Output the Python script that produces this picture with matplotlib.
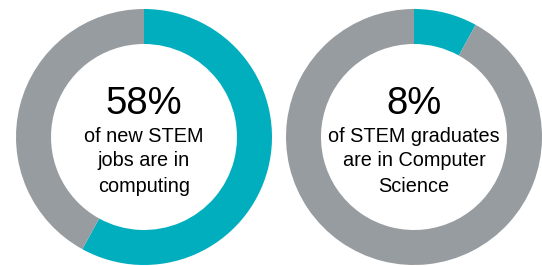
import matplotlib
matplotlib.use("Agg")
import matplotlib.pyplot as plt

plt.rcParams['font.family'] = ['Liberation Sans', 'DejaVu Sans']

# Data
shares = [58, 8]
big_labels = ["58%", "8%"]
sub_labels = [
    ["of new STEM", "jobs are in", "computing"],
    ["of STEM graduates", "are in Computer", "Science"],
]

teal = "#00AEBE"
gray = "#979CA0"

W, H = 542, 266
fig = plt.figure(figsize=(W / 100, H / 100), dpi=100)
ax = fig.add_axes([0, 0, 1, 1])

centers_x = [144, 414]
cy = H - 137
r_out = 128
ring = 35

for cx, s, big, subs in zip(centers_x, shares, big_labels, sub_labels):
    ax.pie([s, 100 - s], colors=[teal, gray], startangle=90, counterclock=False,
           radius=r_out, center=(cx, cy),
           wedgeprops=dict(width=ring, edgecolor='none', linewidth=0))
    ax.text(cx, H - 114, big, ha='center', va='baseline', fontsize=27.5, color='black')
    for i, line in enumerate(subs):
        ax.text(cx, H - (141.5 + 25 * i), line, ha='center', va='baseline',
                fontsize=14.3, color='black')

ax.set_aspect('auto')
ax.set_xlim(0, W)
ax.set_ylim(0, H)
ax.axis('off')

fig.savefig("out.png", dpi=100)
